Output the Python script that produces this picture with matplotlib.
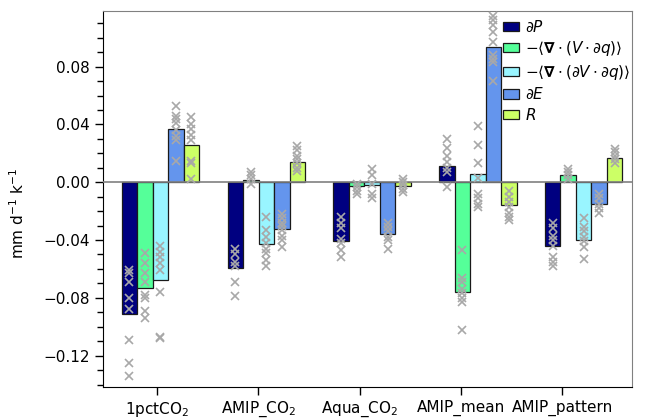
import numpy as np
import matplotlib
matplotlib.use("Agg")
import matplotlib.pyplot as plt
from matplotlib.ticker import MultipleLocator

plt.rcParams['font.family'] = ['DejaVu Sans']
plt.rcParams['mathtext.fontset'] = 'dejavusans'

# experimentos
experimentos = ['1pctCO$_2$', 'AMIP_CO$_2$', 'Aqua_CO$_2$', 'AMIP_mean', 'AMIP_pattern']

# etiquetas de la leyenda
etiquetas = [r'$\partial P$',
             r'$-\langle\mathbf{\nabla}\cdot(V\cdot\partial q)\rangle$',
             r'$-\langle\mathbf{\nabla}\cdot(\partial V\cdot\partial q)\rangle$',
             r'$\partial E$',
             r'$R$']
colores = ['#000080', '#55ff99', '#99f5ff', '#6495ed', '#ccff66']

# medias multi-modelo (una lista por término, un valor por experimento)
dP = [-0.0911, -0.0595, -0.0405, 0.0115, -0.0442]
div_Vdq = [-0.0729, 0.0016, -0.0023, -0.0760, 0.0053]
div_dVdq = [-0.0678, -0.0428, -0.0018, 0.0058, -0.0399]
dE = [0.0371, -0.0325, -0.0355, 0.0937, -0.0153]
R = [0.0259, 0.0142, -0.0025, -0.0156, 0.0168]

# modelos individuales (cruces)
dP_mod = [[-0.061, -0.063, -0.069, -0.080, -0.088, -0.109, -0.125, -0.134],
          [-0.046, -0.050, -0.055, -0.058, -0.069, -0.079],
          [-0.024, -0.028, -0.032, -0.039, -0.042, -0.047, -0.052],
          [0.030, 0.024, 0.018, 0.014, 0.010, 0.007, -0.003],
          [-0.028, -0.032, -0.037, -0.040, -0.044, -0.052, -0.055, -0.058]]
div_Vdq_mod = [[-0.049, -0.056, -0.063, -0.069, -0.078, -0.080, -0.089, -0.094],
               [0.007, 0.005, 0.002, -0.001],
               [-0.001, -0.003, -0.006, -0.008],
               [-0.047, -0.066, -0.069, -0.074, -0.077, -0.080, -0.083, -0.102],
               [0.009, 0.007, 0.005, 0.002]]
div_dVdq_mod = [[-0.044, -0.048, -0.052, -0.056, -0.061, -0.076, -0.107, -0.108],
                [-0.024, -0.033, -0.038, -0.042, -0.046, -0.049, -0.054, -0.058],
                [0.009, 0.005, -0.001, -0.008, -0.011],
                [0.039, 0.026, 0.013, 0.003, -0.008, -0.011, -0.015, -0.017],
                [-0.025, -0.031, -0.034, -0.038, -0.041, -0.045, -0.053]]
dE_mod = [[0.053, 0.046, 0.044, 0.041, 0.036, 0.032, 0.029, 0.015],
          [-0.022, -0.025, -0.028, -0.030, -0.033, -0.037, -0.040, -0.045],
          [-0.028, -0.031, -0.034, -0.038, -0.040, -0.046],
          [0.115, 0.112, 0.109, 0.104, 0.097, 0.088, 0.085, 0.083, 0.070],
          [-0.008, -0.011, -0.015, -0.018, -0.021]]
R_mod = [[0.045, 0.040, 0.037, 0.033, 0.029, 0.015, 0.013, 0.002],
         [0.025, 0.022, 0.018, 0.016, 0.013, 0.010, 0.008],
         [0.002, 0.000, -0.002, -0.005, -0.007],
         [-0.006, -0.010, -0.014, -0.017, -0.021, -0.024, -0.026],
         [0.023, 0.021, 0.018, 0.016, 0.013]]

medias = [dP, div_Vdq, div_dVdq, dE, R]
modelos = [dP_mod, div_Vdq_mod, div_dVdq_mod, dE_mod, R_mod]

fig = plt.figure(figsize=(6.47, 4.20), dpi=100)
ax = fig.add_axes([0.1587, 0.0793, 0.8177, 0.8945])

x = np.arange(len(experimentos))
ancho = 0.1465

for k in range(len(medias)):
    pos = x + (k - 2) * ancho
    ax.bar(pos, medias[k], width=ancho, color=colores[k], edgecolor='#1a1a1a',
           linewidth=0.9, label=etiquetas[k], zorder=2)
    for i in range(len(experimentos)):
        vals = modelos[k][i]
        ax.plot([pos[i]] * len(vals), vals, linestyle='none', marker='x',
                markersize=6, markeredgewidth=1.2, color='#a8a8a8', zorder=4)

ax.axhline(0, color='#808080', linewidth=1.2, zorder=3)

ax.set_xlim(-0.546, 4.454)
ax.set_ylim(-0.1415, 0.1185)

# en la figura original las marcas del eje x no coinciden con los grupos
ax.set_xticks(x * 0.9565 - 0.03)
ax.set_xticklabels(experimentos, fontsize=11)
ax.yaxis.set_major_locator(MultipleLocator(0.04))
ax.yaxis.set_minor_locator(MultipleLocator(0.01))
ax.set_yticklabels([f'{v:.2f}'.replace('-', '\u2212') for v in ax.get_yticks()], fontsize=11)
ax.tick_params(axis='both', which='major', direction='out', length=6, width=1)
ax.tick_params(axis='y', which='minor', direction='out', length=4, width=1)
ax.set_ylabel('mm d$^{-1}$ k$^{-1}$', fontsize=11)
ax.yaxis.set_label_coords(-0.143, 0.46)

ax.spines['left'].set_color('black')
ax.spines['bottom'].set_color('black')
ax.spines['top'].set_color('#808080')
ax.spines['right'].set_color('#808080')

ax.legend(loc='upper right', bbox_to_anchor=(1.012, 1.0), frameon=False,
          fontsize=11, handlelength=1.05, handleheight=0.55, labelspacing=0.3,
          handletextpad=0.4, borderaxespad=0.0, borderpad=0.5)

fig.savefig('out.png', dpi=100)
